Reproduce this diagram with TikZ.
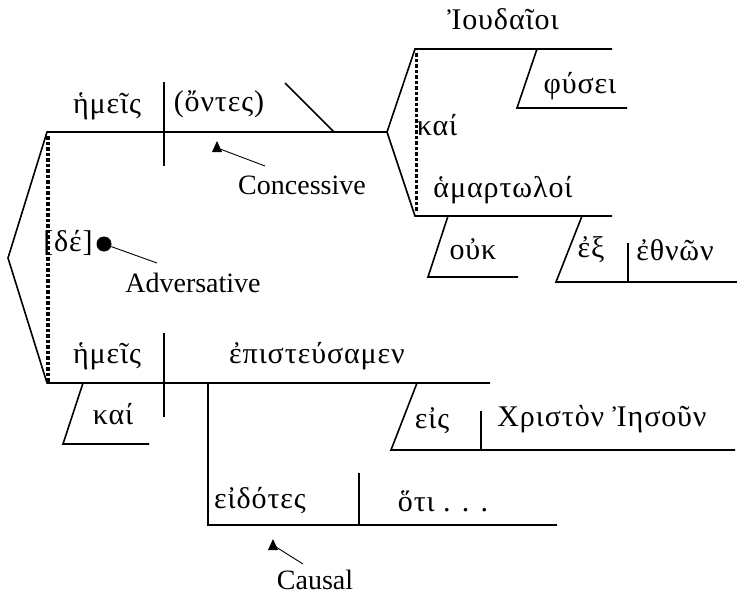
\documentclass[tikz,border=0pt]{standalone}
\usepackage{fontspec}
\setmainfont{Liberation Serif}
\newfontfamily\grkfont[LetterSpace=3]{Liberation Serif}
\begin{document}
\begin{tikzpicture}[x=1pt,y=-1pt,
  ln/.style={line width=1.6pt},
  thin/.style={line width=0.9pt},
  word/.style={inner sep=0pt,font=\grkfont\fontsize{30}{34}\selectfont},
  lbl/.style={inner sep=0pt,font=\fontsize{28}{32}\selectfont}]
\useasboundingbox (0,0) rectangle (737,597);
% ---- key points
\coordinate (apex) at (8,258);
\coordinate (ul) at (47,132);
\coordinate (ur) at (387,132);
\coordinate (ll) at (47,383);
\coordinate (lr) at (490,383);
% upper clause
\draw[ln] (apex) -- (ul) -- (ur);
\draw[ln] (apex) -- (ll) -- (lr);
\foreach \yy in {138,143.5,...,380} \fill (46.3,\yy-1.6) rectangle (49.9,\yy+1.6);
\coordinate (ud1) at (164,82); \coordinate (ud2) at (164,166);
\draw[ln] (ud1) -- (ud2);
\coordinate (sl1) at (285,83); \coordinate (sl2) at (334,132);
\draw[ln] (sl1) -- (sl2);
% right compound predicate nominative
\coordinate (rt) at (415,49); \coordinate (rtr) at (612,49);
\coordinate (rb) at (415,216); \coordinate (rbr) at (612,216);
\draw[ln] (ur) -- (rt) -- (rtr);
\draw[ln] (ur) -- (rb) -- (rbr);
\foreach \yy in {55,60.5,...,213} \fill (414.7,\yy-1.6) rectangle (418.3,\yy+1.6);
\coordinate (f1) at (537,49); \coordinate (f2) at (517,108); \coordinate (f3) at (627,108);
\draw[ln] (f1) -- (f2) -- (f3);
\coordinate (o1) at (448,216); \coordinate (o2) at (428,277); \coordinate (o3) at (518,277);
\draw[ln] (o1) -- (o2) -- (o3);
\coordinate (e1) at (582,216); \coordinate (e2) at (556,282); \coordinate (e3) at (737,282);
\draw[ln] (e1) -- (e2) -- (e3);
\coordinate (ed1) at (628,243); \coordinate (ed2) at (628,282);
\draw[ln] (ed1) -- (ed2);
% lower clause
\coordinate (ld1) at (164,333); \coordinate (ld2) at (164,417);
\draw[ln] (ld1) -- (ld2);
\coordinate (k1) at (83,383); \coordinate (k2) at (63,444); \coordinate (k3) at (149,444);
\draw[ln] (k1) -- (k2) -- (k3);
\coordinate (c1) at (417,383); \coordinate (c2) at (391,450); \coordinate (c3) at (735,450);
\draw[ln] (c1) -- (c2) -- (c3);
\coordinate (cd1) at (481,411); \coordinate (cd2) at (481,450);
\draw[ln] (cd1) -- (cd2);
\coordinate (p1) at (208,383); \coordinate (p2) at (208,525); \coordinate (p3) at (557,525);
\draw[ln] (p1) -- (p2) -- (p3);
\coordinate (pd1) at (359,473); \coordinate (pd2) at (359,525);
\draw[ln] (pd1) -- (pd2);
% ---- words
\node[word] (w1) at (107,106) {ἡμεῖς};
\node[word] (w2) at (219,104) {(ὄντες)};
\node[word] (w3) at (503,19) {Ἰουδαῖοι};
\node[word] (w4) at (580,86) {φύσει};
\node[word] (w5) at (437,125) {καί};
\node[word] (w6) at (503,190) {ἁμαρτωλοί};
\node[word] (w7) at (473,249) {οὐκ};
\node[word] (w8) at (591,250) {ἐξ};
\node[word] (w9) at (675,250) {ἐθνῶν};
\node[word] (w10) at (68,243) {[δέ]};
\node[word] (w11) at (107,356) {ἡμεῖς};
\node[word] (w12) at (317,356) {ἐπιστεύσαμεν};
\node[word] (w13) at (113,414) {καί};
\node[word] (w14) at (432,421) {εἰς};
\node[word] (w15) at (602,419) {Χριστὸν Ἰησοῦν};
\node[word] (w16) at (260,501) {εἰδότες};
\node[word] (w17) at (443,501) {ὅτι . . .};
% ---- annotations
\node[lbl] (conc) at (302,185) {Concessive};
\node[lbl] (adv) at (193,283) {Adversative};
\node[lbl] (caus) at (315,580) {Causal};
\fill (217,141) -- (212,152) -- (222,152) -- cycle;
\coordinate (cta) at (220,149); \coordinate (ctb) at (265,166);
\draw[thin] (cta) -- (ctb);
\node[circle,fill,inner sep=0pt,minimum size=15pt] (dot) at (104,244) {};
\coordinate (adb) at (157,263);
\draw[thin] (dot) -- (adb);
\fill (273,539) -- (268,550) -- (278,550) -- cycle;
\coordinate (cua) at (276,547); \coordinate (cub) at (303,564);
\draw[thin] (cua) -- (cub);
\end{tikzpicture}
\end{document}
